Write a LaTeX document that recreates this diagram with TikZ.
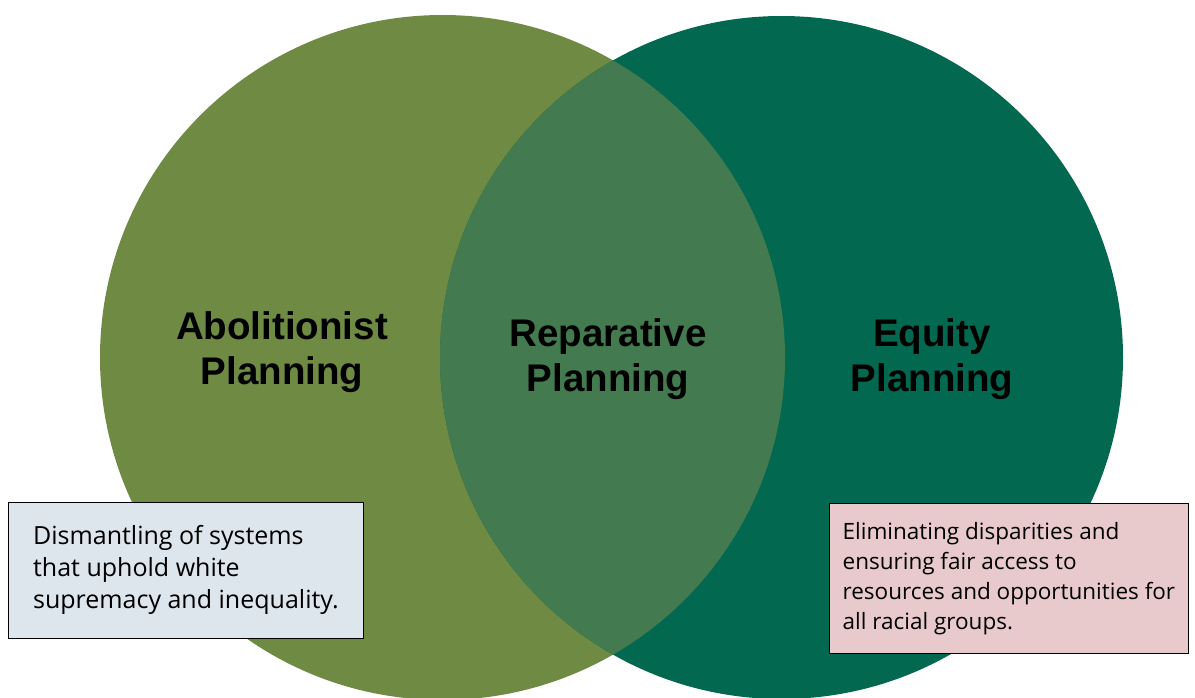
\documentclass[tikz,border=0pt]{standalone}
\usepackage{fontspec}
\setmainfont{Liberation Sans}
\newfontfamily\boxfont{Open Sans}

\definecolor{abolgreen}{HTML}{6F8A43}
\definecolor{equitygreen}{HTML}{02684F}
\definecolor{overlapgreen}{HTML}{437A4F}
\definecolor{boxblue}{HTML}{DCE6EC}
\definecolor{boxpink}{HTML}{E8CACC}

\begin{document}
\begin{tikzpicture}[x=1pt, y=-1pt,
    circlelabel/.style={font=\bfseries\fontsize{38.5}{45}\selectfont, align=center, text=black},
    descbox/.style={draw=black, line width=0.8pt, align=left, anchor=north west}]
        % 1. Page frame
        \useasboundingbox (0,0) rectangle (1195,697);

        % 2. The two circles and their overlap
        \coordinate (abol) at (442.5,357.5);
        \coordinate (equi) at (781.5,357.5);
        \fill[abolgreen] (abol) circle (342.5pt);
        \fill[equitygreen] (equi) circle (341.5pt);
        \begin{scope}
            \clip (abol) circle (342.5pt);
            \fill[overlapgreen] (equi) circle (341.5pt);
        \end{scope}

        % 3. Circle titles
        \node[circlelabel] (abolitionist) at (282,352) {Abolitionist\\Planning};
        \node[circlelabel] (reparative) at (608,359) {Reparative\\Planning};
        \node[circlelabel] (equity) at (932,359) {Equity\\Planning};

        % 4. Description boxes
        % Bottom Left
        \node[descbox, fill=boxblue, minimum width=355pt, minimum height=136pt,
              font=\boxfont\fontsize{25}{32}\selectfont] (dismantle) at (8,502)
              {Dismantling of systems\\that uphold white\\supremacy and inequality.};
        % Bottom Right
        \node[descbox, fill=boxpink, minimum width=359pt, minimum height=150pt,
              font=\boxfont\fontsize{22.5}{30}\selectfont] (eliminate) at (829,503)
              {Eliminating disparities and\\ensuring fair access to\\resources and opportunities for\\all racial groups.};
    \end{tikzpicture}
\end{document}
